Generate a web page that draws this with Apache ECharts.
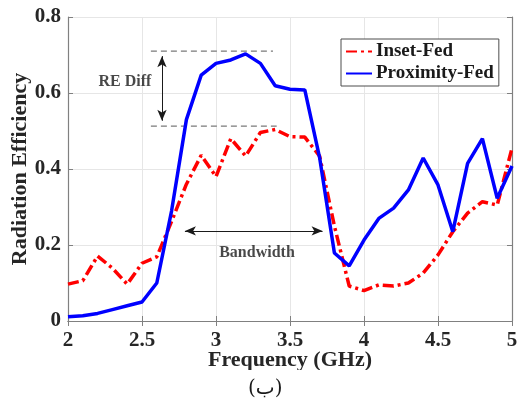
<!DOCTYPE html>
<html>
<head>
<meta charset="utf-8">
<script src="https://cdn.jsdelivr.net/npm/echarts@6/dist/echarts.min.js"></script>
<style>
  html, body { margin: 0; padding: 0; background: #fff; }
  #chart { width: 517px; height: 403px; }
</style>
</head>
<body>
<div id="chart"></div>
<script>
// Frequency samples (GHz)
const freq = [2.0, 2.1, 2.2, 2.3, 2.4, 2.5, 2.6, 2.7, 2.8, 2.9, 3.0,
              3.1, 3.2, 3.3, 3.4, 3.5, 3.6, 3.7, 3.8, 3.9, 4.0,
              4.1, 4.2, 4.3, 4.4, 4.5, 4.6, 4.7, 4.8, 4.9, 5.0];
// Radiation efficiency
const insetFed = [0.097, 0.106, 0.171, 0.139, 0.097, 0.152, 0.169, 0.262, 0.36, 0.436, 0.38,
                  0.48, 0.434, 0.496, 0.504, 0.485, 0.484, 0.434, 0.25, 0.092, 0.08,
                  0.095, 0.092, 0.1, 0.126, 0.174, 0.235, 0.284, 0.314, 0.305, 0.455];
const proximityFed = [0.011, 0.014, 0.02, 0.03, 0.04, 0.05, 0.10, 0.29, 0.53, 0.647, 0.678,
                      0.687, 0.703, 0.678, 0.619, 0.61, 0.608, 0.43, 0.179, 0.145, 0.213,
                      0.27, 0.297, 0.345, 0.429, 0.358, 0.235, 0.415, 0.48, 0.323, 0.408];
const seriesNames = ['Inset-Fed', 'Proximity-Fed'];
const xTicks = [2, 2.5, 3, 3.5, 4, 4.5, 5];
const yTicks = [0, 0.2, 0.4, 0.6, 0.8];

// Annotation guides (data coordinates)
const reUpper = [[2.56, 0.71], [3.385, 0.71]];
const reLower = [[2.56, 0.513], [3.41, 0.513]];
const reArrow = [[2.635, 0.697], [2.635, 0.527]];
const bwArrow = [[2.79, 0.237], [3.72, 0.237]];
const noteText = ['RE Diff', 'Bandwidth'];
const notePos = [[2.385, 0.629], [3.277, 0.179]];

const font = '"Liberation Serif", "Times New Roman", serif';
const chart = echarts.init(document.getElementById('chart'));

function guide(points) {
  return {
    type: 'line',
    data: points,
    symbol: 'none',
    silent: true,
    z: 1,
    lineStyle: { color: '#7a7a7a', width: 1.2, type: [6, 4] }
  };
}

const tickAxis = {
  axisLine: { show: true, lineStyle: { color: '#808080', width: 1.2 } },
  axisTick: { show: true, inside: true, length: 5, lineStyle: { color: '#808080' } },
  splitLine: { show: false },
  axisLabel: { show: false }
};

const option = {
  animation: false,
  backgroundColor: '#fff',
  grid: { left: 68, right: 5, top: 17, bottom: 82, outerBoundsMode: 'none', containLabel: false },
  legend: {
    data: seriesNames,
    orient: 'vertical',
    left: 341,
    top: 39,
    itemWidth: 26,
    itemHeight: 14,
    itemGap: 3,
    padding: [3, 5, 3, 4],
    borderColor: '#4d4d4d',
    borderWidth: 1,
    backgroundColor: '#fff',
    itemStyle: { opacity: 0 },
    textStyle: { fontFamily: font, fontWeight: 'bold', fontSize: 19, color: '#1a1a1a', padding: [0, 0, 0, -1] }
  },
  xAxis: [{
    type: 'value',
    min: 2, max: 5, interval: 0.5,
    name: 'Frequency (GHz)',
    nameLocation: 'middle',
    nameGap: 28,
    nameMoveOverlap: false,
    nameTextStyle: { fontFamily: font, fontWeight: 'bold', fontSize: 22, color: '#262626' },
    axisLine: { show: true, onZero: false, lineStyle: { color: '#808080', width: 1.2 } },
    axisTick: { show: true, inside: true, length: 5, lineStyle: { color: '#808080' } },
    axisLabel: {
      margin: 9,
      fontFamily: font, fontWeight: 'bold', fontSize: 21, color: '#262626',
      formatter: v => xTicks.includes(v) ? String(v) : ''
    },
    splitLine: { show: true, lineStyle: { color: '#e6e6e6', width: 1 } }
  }, Object.assign({ type: 'value', position: 'top', min: 2, max: 5, interval: 0.5 }, tickAxis)],
  yAxis: [{
    type: 'value',
    min: 0, max: 0.8, interval: 0.2,
    name: 'Radiation Efficiency',
    nameLocation: 'middle',
    nameGap: 37,
    nameMoveOverlap: false,
    nameTextStyle: { fontFamily: font, fontWeight: 'bold', fontSize: 22, color: '#262626' },
    axisLine: { show: true, onZero: false, lineStyle: { color: '#808080', width: 1.2 } },
    axisTick: { show: true, inside: true, length: 5, lineStyle: { color: '#808080' } },
    axisLabel: {
      margin: 7,
      fontFamily: font, fontWeight: 'bold', fontSize: 21, color: '#262626',
      formatter: v => yTicks.some(t => Math.abs(t - v) < 1e-9) ? String(+v.toFixed(1)) : ''
    },
    splitLine: { show: true, lineStyle: { color: '#e6e6e6', width: 1 } }
  }, Object.assign({ type: 'value', position: 'right', min: 0, max: 0.8, interval: 0.2 }, tickAxis)],
  series: [
    {
      name: seriesNames[0],
      type: 'line',
      data: freq.map((f, i) => [f, insetFed[i]]),
      symbol: 'none',
      z: 3,
      color: '#ff0000',
      lineStyle: { color: '#ff0000', width: 3.5, type: [11, 4, 3, 4] }
    },
    {
      name: seriesNames[1],
      type: 'line',
      data: freq.map((f, i) => [f, proximityFed[i]]),
      symbol: 'none',
      z: 4,
      color: '#0000ff',
      lineStyle: { color: '#0000ff', width: 3.5 }
    },
    guide(reUpper),
    guide(reLower),
    {
      type: 'scatter',
      data: notePos.map((p, i) => ({ value: p, name: noteText[i] })),
      symbolSize: 0,
      silent: true,
      z: 5,
      label: {
        show: true,
        position: 'inside',
        formatter: '{b}',
        fontFamily: font, fontWeight: 'bold', fontSize: 16, color: '#1a1a1a'
      },
      markLine: {
        silent: true,
        symbol: ['arrow', 'arrow'],
        symbolSize: [7, 11],
        label: { show: false },
        lineStyle: { color: '#1a1a1a', width: 1, type: 'solid' },
        data: [
          [{ coord: reArrow[0] }, { coord: reArrow[1] }],
          [{ coord: bwArrow[0] }, { coord: bwArrow[1] }]
        ]
      }
    }
  ],
  graphic: [
    // white band that crops the bottom of the x axis title, as in the source figure
    { type: 'rect', left: 0, top: 370, shape: { width: 517, height: 7 }, style: { fill: '#fff' }, z: 100 },
    {
      type: 'text', left: 248, top: 379, z: 101,
      style: { text: '(ب)', font: '20px "DejaVu Serif", "DejaVu Sans", "Noto Sans", serif', fill: '#1a1a1a' }
    }
  ]
};

chart.setOption(option);
</script>
</body>
</html>
